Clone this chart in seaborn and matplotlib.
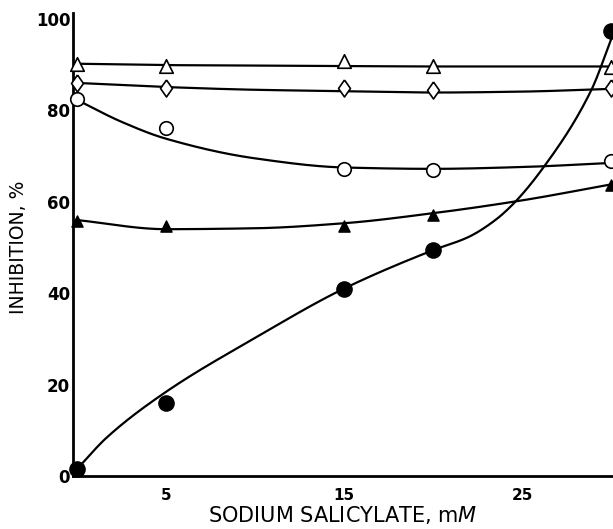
import numpy as np
import pandas as pd
import matplotlib
matplotlib.use("Agg")
import matplotlib.pyplot as plt
import seaborn as sns

# Measured points (sodium salicylate concentration, mM -> % inhibition)
conc = [0, 5, 15, 20, 30]
open_triangle = [90.2, 89.7, 90.8, 89.6, 89.4]
open_diamond = [85.9, 84.9, 84.8, 84.5, 84.9]
open_circle = [82.4, 76.1, 67.2, 66.9, 69.0]
filled_triangle = [55.7, 54.6, 54.8, 57.2, 63.7]
filled_circle = [1.5, 15.9, 41.0, 49.4, 97.4]

# Hand-drawn smooth curves, given as guide knots along each curve
tri_curve_x = [0, 5, 10, 15, 20, 25, 30]
tri_curve_y = [90.2, 89.9, 89.8, 89.7, 89.6, 89.6, 89.6]
dia_curve_x = [0, 5, 10, 15, 20, 25, 30]
dia_curve_y = [86.0, 85.1, 84.5, 84.2, 83.9, 84.1, 84.7]
circ_curve_x = [0, 2.5, 5, 10, 15, 20, 25, 30]
circ_curve_y = [82.3, 77.5, 73.8, 69.5, 67.5, 67.2, 67.6, 68.5]
ftri_curve_x = [0, 5, 10, 15, 20, 25, 30]
ftri_curve_y = [56.0, 54.0, 54.2, 55.3, 57.5, 60.3, 63.8]
fcirc_curve_x = [0, 1.67, 5, 10, 15, 20, 22, 23.5, 24.5, 26.2, 28.9, 30.0]
fcirc_curve_y = [1.5, 8.4, 18.4, 30.2, 41.0, 49.4, 52.3, 56.0, 59.5, 67.5, 84.5, 95.5]

xticks = [5, 10, 15, 20, 25]
xticklabels = ["5", "", "15", "", "25"]
yticks = [0, 20, 40, 60, 80, 100]
yticklabels = ["0", "20", "40", "60", "80", "100"]


def pchip(xk, yk, xs):
    """Monotone piecewise cubic Hermite interpolation through the knots."""
    xk = np.asarray(xk, float)
    yk = np.asarray(yk, float)
    h = np.diff(xk)
    d = np.diff(yk) / h
    m = np.zeros_like(yk)
    for i in range(1, len(xk) - 1):
        if d[i - 1] * d[i] > 0:
            w1 = 2 * h[i] + h[i - 1]
            w2 = h[i] + 2 * h[i - 1]
            m[i] = (w1 + w2) / (w1 / d[i - 1] + w2 / d[i])
    m[0] = d[0]
    m[-1] = d[-1]
    idx = np.clip(np.searchsorted(xk, xs) - 1, 0, len(h) - 1)
    t = (xs - xk[idx]) / h[idx]
    h00 = 2 * t**3 - 3 * t**2 + 1
    h10 = t**3 - 2 * t**2 + t
    h01 = -2 * t**3 + 3 * t**2
    h11 = t**3 - t**2
    return (h00 * yk[idx] + h10 * h[idx] * m[idx]
            + h01 * yk[idx + 1] + h11 * h[idx] * m[idx + 1])


sns.set_theme(style="white")
plt.rcParams["font.family"] = ["DejaVu Sans"]

fig = plt.figure(figsize=(6.13, 5.29), dpi=100)
ax = fig.add_axes([73 / 613, 1 - 476 / 529, 1 - 73 / 613, (476 - 13) / 529])

# smooth curves
curves = [
    (tri_curve_x, tri_curve_y),
    (dia_curve_x, dia_curve_y),
    (circ_curve_x, circ_curve_y),
    (ftri_curve_x, ftri_curve_y),
    (fcirc_curve_x, fcirc_curve_y),
]
for cx, cy in curves:
    xs = np.linspace(cx[0], cx[-1], 300)
    df = pd.DataFrame({"x": xs, "y": pchip(cx, cy, xs)})
    sns.lineplot(data=df, x="x", y="y", ax=ax, color="black", lw=1.6,
                 estimator=None, sort=False, zorder=2)

diamond = [(0, 1), (0.7, 0), (0, -1), (-0.7, 0), (0, 1)]
series = [
    (open_triangle, "^", 95, "white", 1.2),
    (open_diamond, diamond, 150, "white", 1.2),
    (open_circle, "o", 95, "white", 1.2),
    (filled_triangle, "^", 65, "black", 1.0),
    (filled_circle, "o", 120, "black", 1.0),
]
for vals, mk, size, fc, ew in series:
    df = pd.DataFrame({"x": conc, "y": vals})
    sns.scatterplot(data=df, x="x", y="y", ax=ax, marker=mk, s=size,
                    facecolor=fc, edgecolor="black", linewidth=ew,
                    zorder=4, clip_on=False)

ax.set_xlim(-0.22, 30.11)
ax.set_ylim(0, 101.3)

for side in ("top", "right"):
    ax.spines[side].set_visible(False)
for side in ("left", "bottom"):
    ax.spines[side].set_linewidth(2.0)
    ax.spines[side].set_color("black")

ax.set_xticks(xticks)
ax.set_xticklabels(xticklabels, fontsize=11, fontweight="bold")
ax.set_yticks(yticks)
ax.set_yticklabels(yticklabels, fontsize=12, fontweight="bold")
ax.tick_params(axis="x", direction="in", length=12, width=1.8, pad=9,
               colors="black")
ax.tick_params(axis="y", direction="in", length=10, width=1.8, pad=2,
               colors="black")
ax.yaxis.get_major_ticks()[0].tick1line.set_visible(False)

ax.set_xlabel("SODIUM SALICYLATE, m$\\mathit{M}$", fontsize=15, labelpad=0,
              color="black")
ax.set_ylabel("INHIBITION, %", fontsize=13.5, color="black")
ax.yaxis.set_label_coords(-0.083, 0.495)

fig.savefig("out.png", dpi=100)
